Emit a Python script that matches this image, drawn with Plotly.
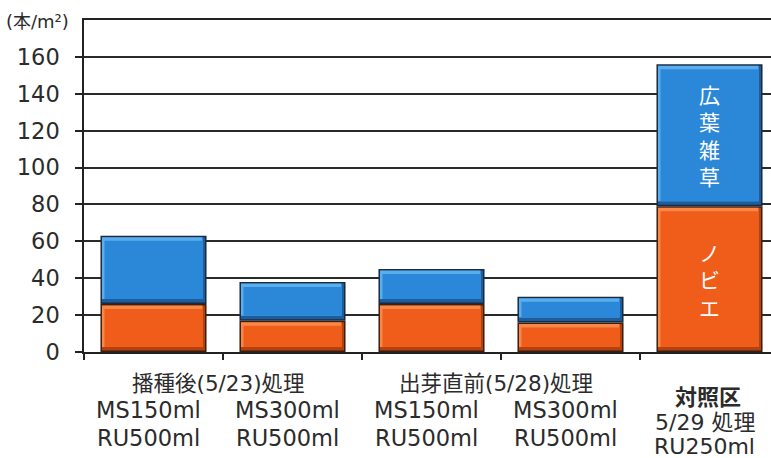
import numpy as np
import plotly.graph_objects as go

# Weed counts per treatment plot (plants / m2)
nobie = [26, 17, 26, 16, 79]          # ノビエ (barnyard grass), bottom segment
broadleaf = [37, 21, 19, 14, 77]      # 広葉雑草 (broadleaf weeds), top segment

# Category label lines under each bar
line1 = ["MS150ml", "MS300ml", "MS150ml", "MS300ml", "5/29 処理"]
line2 = ["RU500ml", "RU500ml", "RU500ml", "RU500ml", "RU250ml"]
group_labels = ["播種後(5/23)処理", "出芽直前(5/28)処理"]
control_label = "対照区"
series_names = ["ノビエ", "広葉雑草"]
y_ticks = [0, 20, 40, 60, 80, 100, 120, 140, 160]

W, H = 771, 458
ML, MT, MB = 84, 20, 106
CAT_PX = 139.0                       # pixel width of one category
Y_MAX = 180
plot_h = H - MT - MB
px_y = Y_MAX / plot_h                # data units per vertical pixel
px_x = 1.0 / CAT_PX                  # data units per horizontal pixel
x_end = (W - ML) / CAT_PX - 0.5

BAR_W = 0.763
FONT = "DejaVu Sans, Noto Sans CJK JP, sans-serif"
TXT = "#2b2b2b"

x = np.arange(len(nobie), dtype=float)
nob = np.array(nobie, dtype=float)
brd = np.array(broadleaf, dtype=float)

fig = go.Figure()


def bevel_bar(base, val, face, light, dark, edge):
    """Stacked segment drawn as overlaid rectangles to give a bevelled look."""
    o = 1.5        # outline thickness, px
    bh = 5.0       # top / bottom bevel, px
    bw = 4.0       # side bevel, px
    layers = [
        # outline
        (x, base, val, BAR_W, edge),
        # shadow (bottom/right)
        (x, base + o * px_y, val - 2 * o * px_y, BAR_W - 2 * o * px_x, dark),
        # highlight (top/left)
        (x - (bw - o) / 2 * px_x, base + bh * px_y, val - (bh + o) * px_y,
         BAR_W - (o + bw) * px_x, light),
        # face
        (x, base + bh * px_y, val - 2 * bh * px_y, BAR_W - 2 * bw * px_x, face),
    ]
    for lx, lb, lv, lw, col in layers:
        fig.add_trace(go.Bar(
            x=lx, y=lv, base=lb, width=lw,
            marker=dict(color=col, line=dict(width=0)),
            hoverinfo="skip", showlegend=False,
        ))


bevel_bar(np.zeros_like(nob), nob, "#f05c19", "#f98848", "#b3420f", "#3a1e10")
bevel_bar(nob, brd, "#2b88d8", "#5aaeee", "#1c5d9e", "#1b2a3e")


# Series names written vertically inside the control bar
def vertical_label(text, xc, yc, size):
    fig.add_annotation(
        x=xc, y=yc, xref="x", yref="y", text="<br>".join(text),
        showarrow=False, yanchor="middle",
        font=dict(family="Noto Sans CJK JP", size=size, color="white"),
    )


vertical_label(series_names[1], x[4], nob[4] + brd[4] / 2, 21)
vertical_label(series_names[0], x[4], nob[4] / 2, 21)

# Category labels beneath the axis
for i in range(len(nobie)):
    dy1, dy2 = (-58, -86) if i < 4 else (-70, -94)
    fig.add_annotation(x=x[i], y=0, xref="x", yref="paper", text=line1[i],
                       showarrow=False, yanchor="middle", xshift=-5, yshift=dy1,
                       font=dict(family=FONT, size=22.5 if i < 4 else 22,
                                 color=TXT))
    fig.add_annotation(x=x[i], y=0, xref="x", yref="paper", text=line2[i],
                       showarrow=False, yanchor="middle", xshift=-5, yshift=dy2,
                       font=dict(family=FONT, size=22.5 if i < 4 else 22,
                                 color=TXT))

for g, lbl in enumerate(group_labels):
    fig.add_annotation(x=2 * g + 0.5, y=0, xref="x", yref="paper", text=lbl,
                       showarrow=False, yanchor="middle", xshift=-5, yshift=-31,
                       font=dict(family=FONT, size=21.5, color=TXT))

fig.add_annotation(x=x[4], y=0, xref="x", yref="paper",
                   text="<b>" + control_label + "</b>", showarrow=False,
                   yanchor="middle", xshift=-2, yshift=-43,
                   font=dict(family="Noto Sans CJK JP", size=22, color=TXT))

# Unit label at the top of the value axis
fig.add_annotation(x=0, y=1, xref="paper", yref="paper", text="(本/m²)",
                   showarrow=False, xanchor="right", yanchor="middle",
                   xshift=-13, yshift=-1,
                   font=dict(family=FONT, size=18, color=TXT))

fig.update_layout(
    width=W, height=H,
    margin=dict(l=ML, r=0, t=MT, b=MB, pad=0),
    paper_bgcolor="white", plot_bgcolor="white",
    barmode="overlay",
    showlegend=False,
    xaxis=dict(
        range=[-0.5, x_end], showgrid=False, zeroline=False,
        showline=True, mirror=True, linecolor="#222", linewidth=1.5,
        tickvals=[-0.5, 0.5, 1.5, 2.5, 3.5], ticktext=["", "", "", "", ""],
        ticks="outside", ticklen=6, tickcolor="#222", tickwidth=1.5,
    ),
    yaxis=dict(
        range=[0, Y_MAX], tickvals=y_ticks,
        showgrid=True, gridcolor="#2a2a2a", gridwidth=1.5,
        zeroline=False, showline=True, linecolor="#222", linewidth=1.5,
        ticks="outside", ticklen=7, tickcolor="#222", tickwidth=1.5,
        ticklabelstandoff=11,
        tickfont=dict(family=FONT, size=22.5, color=TXT),
    ),
)

fig.write_html("out.html")
